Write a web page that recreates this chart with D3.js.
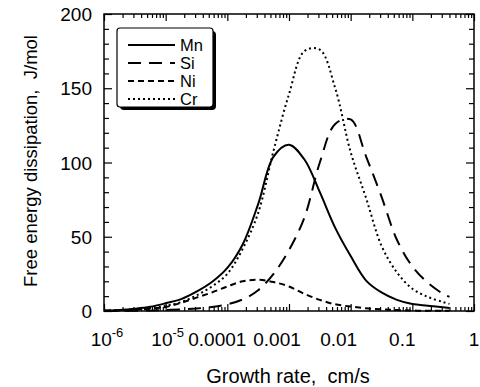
<!DOCTYPE html>
<html>
<head>
<meta charset="utf-8">
<script src="https://cdn.jsdelivr.net/npm/d3@7"></script>
<style>
body { margin: 0; background: #fff; }
text { font-family: "Liberation Sans", Arial, sans-serif; fill: #000; white-space: pre; }
</style>
</head>
<body>
<div id="chart"></div>
<script>
// growth rate grid (cm/s), read at quarter-decade steps
var rates = [1e-6, 1.78e-6, 3.16e-6, 5.62e-6, 1e-5, 1.78e-5, 3.16e-5, 5.62e-5,
  1e-4, 1.78e-4, 3.16e-4, 5.62e-4, 1e-3, 1.78e-3, 3.16e-3, 5.62e-3,
  1e-2, 1.78e-2, 3.16e-2, 5.62e-2, 0.1, 0.178, 0.316, 0.4];
var mn = [0.3, 0.7, 1.5, 2.8, 5.2, 8, 13, 19.5, 29, 45, 72, 104, 112, 102, 80, 56, 37, 20.5, 12.5, 7.5, 4.7, 3.6, 2.5, 2];
var si = [0, 0.1, 0.2, 0.4, 0.7, 1.1, 1.7, 2.7, 4.5, 7.8, 14, 25, 41, 63, 100, 126, 129, 104, 77, 48, 30, 19, 11.5, 9.5];
var ni = [0.2, 0.4, 0.8, 1.5, 2.7, 5.5, 9, 12.5, 16.5, 20, 21, 19.5, 16.5, 11.5, 7.5, 4.5, 3, 1.8, 1.1, 0.6, 0.3, 0.15, 0.1, 0.1];
var cr = [0.3, 0.6, 1.1, 2, 3.5, 6, 10.5, 16.5, 25, 42, 66, 108, 146, 175, 176, 150, 107, 76, 44, 26, 15, 9.5, 6, 4.8];
var seriesNames = ["Mn", "Si", "Ni", "Cr"];
var yTicks = [0, 50, 100, 150, 200];
var xTickLabels = [["10", "-6"], ["10", "-5"], ["0.0001"], ["0.001"], ["0.01"], ["0.1"], ["1"]];

var W = 480, H = 387;
var pLeft = 104, pRight = 474, pTop = 14, pBottom = 311;
var svg = d3.select("#chart").append("svg").attr("width", W).attr("height", H);

var x = d3.scaleLog().domain([1e-6, 1]).range([pLeft, pRight]);
var y = d3.scaleLinear().domain([0, 200]).range([pBottom, pTop]);

// frame
svg.append("rect").attr("x", pLeft).attr("y", pTop).attr("width", pRight - pLeft).attr("height", pBottom - pTop)
  .attr("fill", "none").attr("stroke", "#000").attr("stroke-width", 1.5);

// inward ticks on all four sides
var xMajor = d3.range(-6, 1).map(function(e){ return Math.pow(10, e); });
var xMinor = [];
xMajor.slice(0, 6).forEach(function(d){ for (var k = 2; k < 10; k++) xMinor.push(d * k); });
var yMinor = d3.range(0, 201, 10).filter(function(d){ return d % 50 != 0; });

function tickAxis(axis, pos, len) {
  var g = svg.append("g").attr("transform", pos).call(axis.tickSize(len).tickFormat(""));
  g.select(".domain").remove();
  g.selectAll("line").attr("stroke", "#000").attr("stroke-width", 1.2);
}
tickAxis(d3.axisBottom(x).tickValues(xMajor), "translate(0," + pBottom + ")", -7);
tickAxis(d3.axisBottom(x).tickValues(xMinor), "translate(0," + pBottom + ")", -4);
tickAxis(d3.axisTop(x).tickValues(xMajor), "translate(0," + pTop + ")", -7);
tickAxis(d3.axisTop(x).tickValues(xMinor), "translate(0," + pTop + ")", -4);
tickAxis(d3.axisLeft(y).tickValues(yTicks), "translate(" + pLeft + ",0)", -8);
tickAxis(d3.axisLeft(y).tickValues(yMinor), "translate(" + pLeft + ",0)", -5);
tickAxis(d3.axisRight(y).tickValues(yTicks), "translate(" + pRight + ",0)", -8);
tickAxis(d3.axisRight(y).tickValues(yMinor), "translate(" + pRight + ",0)", -5);

// tick labels
svg.selectAll(".ylab").data(yTicks).enter().append("text")
  .attr("x", pLeft - 12).attr("y", function(d){ return y(d) + 7; })
  .attr("text-anchor", "end").attr("font-size", 19).text(function(d){ return d; });

var xShift = [3, 2, -10, -12, -12, -10, 0];
xTickLabels.forEach(function(lab, i){
  var t = svg.append("text").attr("x", x(xMajor[i]) + xShift[i]).attr("y", 346)
    .attr("text-anchor", "middle").attr("font-size", 19);
  t.append("tspan").text(lab[0]);
  if (lab[1]) t.append("tspan").attr("dy", -9).attr("font-size", 13).text(lab[1]);
});

svg.append("text").attr("x", 288).attr("y", 383).attr("text-anchor", "middle")
  .attr("font-size", 20).text("Growth rate,  cm/s");
svg.append("text").attr("transform", "translate(37,161) rotate(-90)").attr("text-anchor", "middle")
  .attr("font-size", 18.5).text("Free energy dissipation,  J/mol");

// curves
var styles = [
  {data: mn, dash: null},
  {data: si, dash: "13,8"},
  {data: ni, dash: "6,4"},
  {data: cr, dash: "2,3"}
];
var line = d3.line().x(function(d){ return x(d[0]); }).y(function(d){ return y(d[1]); })
  .curve(d3.curveCatmullRom.alpha(0.5));
styles.forEach(function(s){
  svg.append("path").datum(rates.map(function(r, i){ return [r, s.data[i]]; }))
    .attr("d", line).attr("fill", "none").attr("stroke", "#000").attr("stroke-width", 2)
    .attr("stroke-dasharray", s.dash);
});

// legend with drop shadow
var lg = svg.append("g");
lg.append("rect").attr("x", 120).attr("y", 31).attr("width", 96).attr("height", 79).attr("rx", 4).attr("fill", "#000");
lg.append("rect").attr("x", 117).attr("y", 28).attr("width", 96).attr("height", 79).attr("rx", 3)
  .attr("fill", "#fff").attr("stroke", "#000").attr("stroke-width", 1.2);
seriesNames.forEach(function(n, i){
  var yy = 45 + i * 18;
  lg.append("line").attr("x1", 128).attr("x2", 175).attr("y1", yy).attr("y2", yy)
    .attr("stroke", "#000").attr("stroke-width", 2).attr("stroke-dasharray", styles[i].dash);
  lg.append("text").attr("x", 180).attr("y", yy + 6).attr("font-size", 16.5).text(n);
});
</script>
</body>
</html>
